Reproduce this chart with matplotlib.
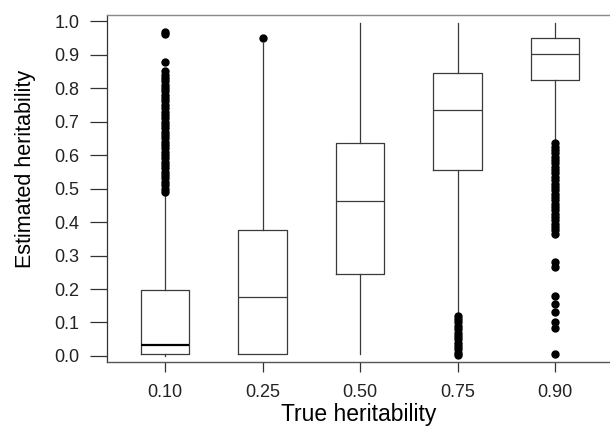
import matplotlib
matplotlib.use("Agg")
import matplotlib.pyplot as plt

plt.rcParams['font.family'] = ['Liberation Sans', 'DejaVu Sans']

categories = ["0.10", "0.25", "0.50", "0.75", "0.90"]
q1 = [0.005, 0.005, 0.245, 0.554, 0.824]
medians = [0.033, 0.176, 0.462, 0.734, 0.901]
q3 = [0.196, 0.376, 0.635, 0.844, 0.948]
whisker_low = [0.0, 0.005, 0.005, 0.13, 0.645]
whisker_high = [0.48, 0.935, 0.995, 0.995, 0.995]

outliers_010 = [0.49, 0.50, 0.51, 0.52, 0.53, 0.54, 0.55, 0.56, 0.57, 0.58,
                0.59, 0.60, 0.61, 0.62, 0.63, 0.64, 0.65, 0.66, 0.67, 0.68,
                0.69, 0.70, 0.71, 0.72, 0.73, 0.74, 0.75, 0.76, 0.77, 0.78,
                0.79, 0.80, 0.81, 0.82, 0.83, 0.84, 0.85, 0.878, 0.962, 0.966]
outliers_025 = [0.948]
outliers_050 = []
outliers_075 = [0.003, 0.01, 0.02, 0.03, 0.04, 0.05, 0.06, 0.07, 0.08, 0.09,
                0.10, 0.11, 0.12]
outliers_090 = [0.005, 0.085, 0.10, 0.13, 0.155, 0.18, 0.265, 0.282,
                0.365, 0.375, 0.385, 0.395, 0.405, 0.415, 0.425, 0.435,
                0.445, 0.455, 0.465, 0.475, 0.485, 0.495, 0.505, 0.515,
                0.525, 0.535, 0.545, 0.555, 0.565, 0.575, 0.585, 0.595,
                0.605, 0.615, 0.625, 0.635]
outliers = [outliers_010, outliers_025, outliers_050, outliers_075, outliers_090]

stats = []
for i in range(len(categories)):
    stats.append(dict(med=medians[i], q1=q1[i], q3=q3[i],
                      whislo=whisker_low[i], whishi=whisker_high[i],
                      fliers=outliers[i], label=categories[i]))

fig = plt.figure(figsize=(6.1, 4.3), dpi=100)
ax = fig.add_axes([0.1754, 0.1581, 0.8246, 0.8069])

line_col = '#3a3a3a'
bp = ax.bxp(stats, positions=range(1, 6), widths=0.5, showcaps=False,
            boxprops=dict(color=line_col, linewidth=0.9),
            whiskerprops=dict(color=line_col, linewidth=0.9),
            medianprops=dict(color=line_col, linewidth=0.9),
            flierprops=dict(marker='o', markerfacecolor='black',
                            markeredgecolor='black', markersize=5,
                            linestyle='none'))
bp['medians'][0].set_color('black')
bp['medians'][0].set_linewidth(1.6)

ax.set_xlim(0.405, 5.564)
ax.set_ylim(-0.018, 1.018)
ax.set_yticks([i / 10 for i in range(11)])
ax.set_yticklabels([f"{i/10:.1f}" for i in range(11)])
ax.set_xticks(range(1, 6))
ax.set_xticklabels(categories)

ax.tick_params(axis='y', length=12, width=0.9, color='#333333', pad=8,
               labelsize=13, labelcolor='#222222')
ax.tick_params(axis='x', length=7, width=0.9, color='#333333', pad=9,
               labelsize=13, labelcolor='#222222')

ax.spines['right'].set_visible(False)
ax.spines['top'].set_color('#888888')
ax.spines['top'].set_linewidth(1.0)
ax.spines['left'].set_color('#333333')
ax.spines['left'].set_linewidth(0.9)
ax.spines['bottom'].set_color('#555555')
ax.spines['bottom'].set_linestyle((0, (1, 1)))
ax.spines['bottom'].set_linewidth(1.0)

ax.set_xlabel("True heritability", fontsize=16.5, color='black', labelpad=1)
ax.set_ylabel("Estimated heritability", fontsize=15.5, color='black')
ax.yaxis.set_label_coords(-0.141, 0.556)

fig.savefig("out.png", dpi=100)
